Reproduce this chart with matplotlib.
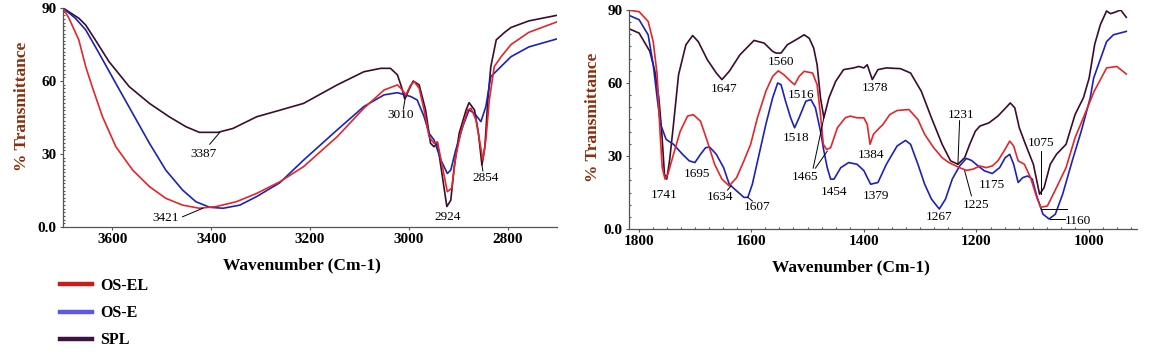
import matplotlib
matplotlib.use("Agg")
import matplotlib.pyplot as plt
from matplotlib.lines import Line2D
from matplotlib.ticker import MultipleLocator

plt.rcParams['font.family'] = ['Liberation Serif', 'DejaVu Serif']

# -------------------------
# Left panel: 3700-2700 cm-1
# -------------------------
spl_left_x = [3700, 3668, 3654, 3634, 3607, 3566, 3525, 3485, 3451, 3424, 3386, 3356, 3308, 3261,
              3213, 3145, 3091, 3057, 3037, 3023, 3015, 3008, 3000, 2991, 2979, 2966, 2956, 2949,
              2942, 2932, 2923, 2915, 2908, 2898, 2884, 2878, 2867, 2859, 2852, 2846, 2840, 2834,
              2823, 2806, 2793, 2757, 2700]
spl_left_y = [90, 85.8, 83, 76.7, 68, 57.7, 50.8, 45.3, 41.2, 38.9, 38.9, 40.5, 45.3, 48,
              50.8, 58.4, 63.8, 65.2, 65.2, 62.5, 57.7, 52.5, 56.3, 60, 58.4, 48.1, 34.4, 33,
              34.4, 20.7, 8.4, 11, 24.8, 38.5, 48.1, 51.1, 48.1, 38.5, 25.5, 33, 52.2, 65.9,
              76.9, 80, 82, 84.7, 87]

el_left_x = [3700, 3688, 3668, 3654, 3641, 3620, 3593, 3559, 3525, 3492, 3458, 3424, 3390, 3349,
             3308, 3261, 3213, 3145, 3091, 3050, 3023, 3013, 3006, 2996, 2989, 2979, 2969, 2959,
             2949, 2942, 2932, 2922, 2913, 2905, 2895, 2881, 2874, 2864, 2857, 2850, 2844, 2837,
             2827, 2813, 2793, 2757, 2700]
el_left_y = [90, 85.8, 76.9, 65.9, 57.7, 45.3, 33, 23.4, 16.6, 11.8, 9, 7.7, 8.4, 10.4,
             13.8, 18.6, 24.8, 37.1, 48.8, 56.3, 58.4, 56.3, 54.3, 58.4, 59.7, 57, 48.1, 37.1,
             34.4, 35, 24.8, 14.5, 16, 28.9, 38.5, 48.1, 48.8, 44, 35.8, 27.5, 35.8, 52.2,
             65.9, 70, 75, 80, 84.3]

e_left_x = [3700, 3675, 3654, 3627, 3593, 3559, 3525, 3492, 3458, 3431, 3403, 3376, 3342, 3308,
            3261, 3213, 3145, 3091, 3050, 3023, 2996, 2983, 2969, 2959, 2949, 2935, 2922, 2915,
            2905, 2891, 2878, 2867, 2854, 2844, 2834, 2813, 2793, 2757, 2700]
e_left_y = [90, 85.8, 81, 71.4, 59, 46.7, 34.4, 23.4, 15.2, 10.4, 8.1, 7.7, 9, 12.5,
            18.2, 27.5, 39.9, 49.5, 54.3, 55.2, 53.6, 52.2, 45.3, 38.5, 35.8, 27.5, 22, 23.4,
            31.6, 41.2, 48.1, 46.7, 43.3, 49.5, 61.8, 66, 70, 74, 77.3]

# -------------------------
# Right panel: 1815-915 cm-1
# -------------------------
spl_right_x = [1819, 1799, 1780, 1771, 1764, 1759, 1754, 1750, 1745, 1738, 1729, 1716, 1704, 1694,
               1678, 1662, 1652, 1639, 1620, 1595, 1577, 1562, 1556, 1547, 1536, 1521, 1506, 1497,
               1489, 1483, 1477, 1471, 1462, 1450, 1436, 1418, 1409, 1400, 1394, 1385, 1375, 1360,
               1335, 1317, 1298, 1280, 1261, 1246, 1233, 1221, 1212, 1202, 1194, 1178, 1162, 1148,
               1140, 1132, 1124, 1113, 1099, 1088, 1080, 1069, 1058, 1041, 1025, 1010, 1000, 990,
               980, 969, 962, 955, 944, 934]
spl_right_y = [82.5, 80.5, 73, 64.8, 53.9, 40.2, 22.5, 20.5, 28, 43, 63.4, 75.7, 79.5, 77,
               69.6, 64.1, 61.4, 64.8, 71.6, 77.5, 76.4, 73, 72.3, 72.3, 75.7, 77.7, 79.8, 78.4,
               74.3, 67.5, 53.9, 45.7, 53.9, 60.7, 65.5, 66.2, 66.8, 66.2, 67.5, 61.4, 65.5, 66.2,
               65.9, 64.1, 56.6, 45.7, 34.8, 28, 26.6, 29.3, 34.8, 40.2, 42.3, 43.6, 46.4, 49.8,
               51.8, 49.8, 41.6, 34.8, 26.6, 14.3, 17, 26.6, 30.7, 34.8, 47, 54, 62, 76,
               84, 89.6, 88.5, 89, 90, 87]

el_right_x = [1819, 1799, 1783, 1774, 1767, 1762, 1758, 1753, 1748, 1738, 1726, 1713, 1703, 1690,
              1678, 1665, 1652, 1639, 1626, 1613, 1601, 1589, 1574, 1562, 1552, 1542, 1530, 1523,
              1515, 1506, 1491, 1483, 1477, 1472, 1466, 1459, 1447, 1433, 1424, 1412, 1400, 1394,
              1389, 1383, 1375, 1366, 1354, 1341, 1320, 1304, 1292, 1276, 1261, 1249, 1230, 1218,
              1206, 1194, 1183, 1172, 1162, 1151, 1141, 1134, 1126, 1115, 1104, 1093, 1086, 1074,
              1058, 1041, 1025, 1008, 991, 969, 951, 934]
el_right_y = [90, 89.3, 85.3, 77, 63.4, 40.2, 25.2, 20.5, 22.5, 30.7, 40.2, 46.4, 47, 44.3,
              36.1, 26.6, 20.5, 17.7, 21.1, 28, 34.8, 45.7, 56.6, 62.7, 65, 63.4, 60.7, 59.3,
              62.7, 64.8, 64.1, 59.3, 47, 34.8, 32.7, 33.4, 41.6, 45.7, 46.4, 45.7, 45.7, 43,
              34.8, 38.9, 40.9, 43, 47, 48.7, 49.1, 45, 38.9, 33.4, 29.3, 27.3, 25.2, 24.1,
              24.6, 25.9, 25.2, 25.9, 28, 32.1, 36.1, 34.1, 28, 26.6, 21.1, 13, 8.9, 9.5,
              17, 25.2, 37.5, 47, 56.6, 66.2, 66.8, 63.7]

e_right_x = [1819, 1799, 1783, 1774, 1767, 1761, 1751, 1738, 1722, 1710, 1700, 1690, 1681, 1674,
             1662, 1649, 1639, 1626, 1613, 1606, 1598, 1586, 1574, 1562, 1553, 1547, 1539, 1530,
             1523, 1515, 1503, 1494, 1486, 1477, 1471, 1465, 1459, 1453, 1441, 1427, 1412, 1400,
             1388, 1375, 1360, 1341, 1326, 1317, 1304, 1292, 1280, 1266, 1255, 1243, 1230, 1218,
             1209, 1197, 1186, 1172, 1159, 1149, 1141, 1134, 1126, 1118, 1109, 1101, 1093, 1082,
             1071, 1060, 1047, 1030, 1014, 998, 992, 969, 957, 934]
e_right_y = [88, 86, 79.8, 67.5, 53.9, 43, 36.8, 34.8, 30.7, 28, 27.3, 30.7, 33.4, 33.7,
             30.7, 25.2, 18.4, 15.7, 13, 13, 18.4, 30.7, 43, 53.9, 60, 59.3, 52.5, 45.7,
             41.6, 45.7, 52.5, 53.2, 49.8, 40.2, 32.1, 25.2, 20.5, 20.5, 25.2, 27.3, 26.6, 24,
             18.4, 19.1, 26.6, 34.1, 36.4, 34.8, 26.6, 18.4, 12.3, 8.2, 12.3, 20.5, 25.9, 29,
             28.2, 25.9, 23.9, 22.8, 25.2, 29.3, 30.7, 26.6, 19.1, 21.1, 21.8, 20.5, 13.6, 6.1,
             4.1, 6.1, 14.3, 28, 40.2, 53.9, 62, 77, 79.8, 81.2]

# peak labels: (text, x, y) and leader lines ((x0, y0), (x1, y1))
left_labels = [("3387", 3416, 30), ("3421", 3492, 3.5), ("3010", 3017, 46),
               ("2924", 2922, 4.2), ("2854", 2844, 20.3)]
left_leaders = [((3403, 34), (3383, 38.8)), ((3458, 4.2), (3417, 7.7)),
                ((3011, 48.5), (3008, 52)), ((2850, 23), (2852, 25.5))]

right_labels = [("1741", 1754, 13.9), ("1695", 1696, 22.8), ("1634", 1655, 13),
                ("1607", 1589, 9.1), ("1647", 1649, 57.7), ("1560", 1547, 68.6),
                ("1516", 1511, 55.2), ("1518", 1520, 37.5), ("1465", 1505, 21.4),
                ("1454", 1453, 15.4), ("1378", 1381, 58), ("1384", 1388, 30.4),
                ("1379", 1378, 13.6), ("1267", 1266, 4.8), ("1231", 1227, 47),
                ("1225", 1200, 10), ("1175", 1172, 18.1), ("1075", 1085, 35.2),
                ("1160", 1020, 3.4)]
right_leaders = [((1642, 16), (1636, 17.7)), ((1598, 11.5), (1606, 13)),
                 ((1490, 25), (1471, 45.7)), ((1486, 25), (1465, 32)),
                 ((1230, 44.5), (1233, 26.6)), ((1209, 13.6), (1221, 23.9)),
                 ((1086, 32), (1086, 14.3)), ((1086, 8.2), (1039, 8.2)),
                 ((1069, 4.1), (1042, 4.1))]

RED = '#E3262A'
BLUE = '#1C22B8'
DARK = '#3A0D2E'
YLAB = '#8B2E0E'

fig = plt.figure(figsize=(11.51, 3.62), dpi=100)
ax1 = fig.add_axes([63 / 1151, 1 - 227 / 362, 494 / 1151, 219 / 362])
ax2 = fig.add_axes([629 / 1151, 1 - 229 / 362, 508 / 1151, 219 / 362])


def style_axis(ax, xlim, xmajor, xminor, yminor, label_x):
    ax.set_xlim(*xlim)
    ax.set_ylim(0, 90)
    ax.set_yticks([0, 30, 60, 90])
    ax.set_yticklabels(['0.0', '30', '60', '90'])
    ax.xaxis.set_major_locator(MultipleLocator(xmajor))
    if xminor:
        ax.xaxis.set_minor_locator(MultipleLocator(xminor))
    ax.yaxis.set_minor_locator(MultipleLocator(yminor))
    for s in ['top', 'right']:
        ax.spines[s].set_visible(False)
    for s in ['left', 'bottom']:
        ax.spines[s].set_color('#555555')
        ax.spines[s].set_linewidth(0.9)
    ax.tick_params(axis='both', which='major', length=2.5, width=0.8, color='#555555',
                   labelsize=11, pad=2)
    ax.tick_params(axis='both', which='minor', length=1.5, width=0.8, color='#555555',
                   direction='in')
    for lab in ax.get_xticklabels() + ax.get_yticklabels():
        lab.set_fontweight('bold')
    ax.set_xlabel('Wavenumber (Cm-1)', fontsize=12.5, fontweight='bold')
    ax.set_ylabel('% Transmittance', fontsize=12.5, fontweight='bold', color=YLAB)
    ax.xaxis.set_label_coords(label_x, -0.14)
    ax.patch.set_alpha(0)


def draw_labels(ax, labels, leaders):
    for txt, x, y in labels:
        ax.text(x, y, txt, ha='center', va='center', fontsize=9.5, color='black')
    for (x0, y0), (x1, y1) in leaders:
        ax.plot([x0, x1], [y0, y1], color='black', lw=0.7)


ax1.plot(spl_left_x, spl_left_y, color=DARK, lw=1.2)
ax1.plot(e_left_x, e_left_y, color=BLUE, lw=1.2)
ax1.plot(el_left_x, el_left_y, color=RED, lw=1.2)
style_axis(ax1, (3700, 2700), 200, None, 1.5, 0.484)
ax1.yaxis.set_label_coords(-0.066, 0.55)
draw_labels(ax1, left_labels, left_leaders)

ax2.plot(spl_right_x, spl_right_y, color=DARK, lw=1.2)
ax2.plot(e_right_x, e_right_y, color=BLUE, lw=1.2)
ax2.plot(el_right_x, el_right_y, color=RED, lw=1.2)
style_axis(ax2, (1817, 915), 200, 25, 5, 0.437)
ax2.yaxis.set_label_coords(-0.056, 0.51)
draw_labels(ax2, right_labels, right_leaders)

handles = [Line2D([], [], color='#CC1B1B', lw=3.2),
           Line2D([], [], color='#5A5AE6', lw=3.2),
           Line2D([], [], color='#3D1242', lw=3.2)]
fig.legend(handles, ['OS-EL', 'OS-E', 'SPL'], loc='upper left',
           bbox_to_anchor=(52 / 1151, 1 - 270 / 362), frameon=False, borderpad=0,
           handlelength=2.0, handletextpad=0.5, labelspacing=0.7,
           prop={'weight': 'bold', 'size': 11.5})

fig.savefig('out.png', dpi=100)
